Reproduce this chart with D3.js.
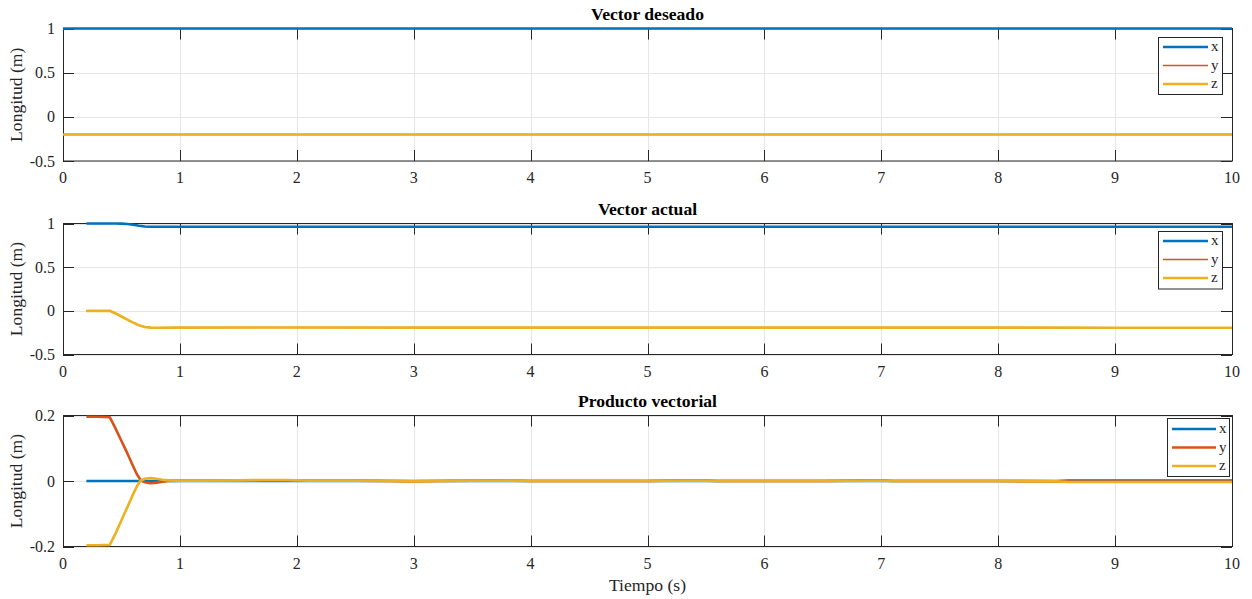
<!DOCTYPE html>
<html>
<head>
<meta charset="utf-8">
<script src="https://cdn.jsdelivr.net/npm/d3@7"></script>
<style>
  html, body { margin: 0; padding: 0; background: #fff; }
  svg { display: block; }
  text { font-family: "Liberation Serif", "Times New Roman", serif; fill: #262626; }
</style>
</head>
<body>
<svg id="chart" width="1252" height="599" font-family="Liberation Serif, serif"></svg>
<script>
// ---------- DATA ----------
const seriesNames = ["x", "y", "z"];
const seriesColors = ["#0072BD", "#D95319", "#EDB120"];
const xTicks = [0, 1, 2, 3, 4, 5, 6, 7, 8, 9, 10];

// Panel 1: Vector deseado
const title1 = "Vector deseado";
const t1 = [0, 10];
const d1x = [1, 1];
const d1y = [-0.2, -0.2];
const d1z = [-0.2, -0.2];
const yTicks1 = [-0.5, 0, 0.5, 1];
const yTickLabels1 = ["-0.5", "0", "0.5", "1"];

// Panel 2: Vector actual
const title2 = "Vector actual";
const t2 = [0.2, 0.4, 0.45, 0.5, 0.55, 0.6, 0.65, 0.7, 0.75, 0.8, 1, 2, 3, 4, 5, 6, 7, 8, 9, 10];
const d2x = [1, 1, 1, 0.999, 0.994, 0.985, 0.974, 0.965, 0.962, 0.962, 0.962, 0.962, 0.962, 0.962, 0.962, 0.962, 0.962, 0.962, 0.962, 0.962];
const d2y = [0, 0.001, -0.03, -0.065, -0.1, -0.135, -0.165, -0.185, -0.192, -0.193, -0.192, -0.191, -0.192, -0.192, -0.192, -0.192, -0.192, -0.192, -0.193, -0.193];
const d2z = [0, 0.001, -0.03, -0.065, -0.1, -0.135, -0.165, -0.185, -0.192, -0.193, -0.192, -0.191, -0.192, -0.192, -0.192, -0.192, -0.192, -0.192, -0.193, -0.193];
const yTicks2 = [-0.5, 0, 0.5, 1];
const yTickLabels2 = ["-0.5", "0", "0.5", "1"];

// Panel 3: Producto vectorial
const title3 = "Producto vectorial";
const t3 = [0.2, 0.3, 0.4, 0.45, 0.5, 0.55, 0.6, 0.63, 0.66, 0.7, 0.75, 0.8, 0.85, 0.9, 1.0, 1.2, 1.5, 1.7, 1.9, 2.1, 2.5, 2.8, 3.0, 3.2, 3.5, 3.7, 3.85, 4.0, 4.5, 5.0, 5.3, 5.45, 5.6, 6.0, 6.5, 6.95, 7.0, 7.1, 7.5, 8.0, 8.5, 8.6, 9.0, 9.5, 10];
const d3x = [0, 0, 0, 0, 0, 0, 0, 0, 0, 0, 0, 0, 0, 0, 0, 0, 0, 0, 0, 0, 0, 0, 0, 0, 0, 0, 0, 0, 0, 0, 0, 0, 0, 0, 0, 0, 0, 0, 0, 0, 0, 0.001, 0.001, 0.001, 0.001];
const d3y = [0.196, 0.196, 0.195, 0.16, 0.122, 0.085, 0.045, 0.022, 0.005, -0.004, -0.007, -0.005, -0.002, 0, 0.001, 0.001, 0.002, 0.002, 0.002, 0.001, 0.001, 0, -0.001, 0, 0.001, 0.002, 0.001, 0, 0, 0, 0.002, 0.002, 0, 0, 0, 0.002, 0.002, 0, 0, 0, -0.001, -0.002, -0.002, -0.002, -0.002];
const d3z = [-0.196, -0.196, -0.195, -0.16, -0.12, -0.08, -0.04, -0.018, 0, 0.007, 0.009, 0.007, 0.004, 0.002, 0.001, 0.001, 0.002, 0.003, 0.003, 0.001, 0.001, 0, -0.001, 0, 0.001, 0.001, 0.001, 0, 0, 0, 0.001, 0.001, 0, 0, 0, 0.001, 0.001, 0, 0, 0, -0.001, -0.003, -0.003, -0.003, -0.003];
const yTicks3 = [-0.2, 0, 0.2];
const yTickLabels3 = ["-0.2", "0", "0.2"];

const yLabel = "Longitud (m)";
const xLabel = "Tiempo (s)";

// ---------- LAYOUT ----------
const svg = d3.select("#chart");
const left = 63, right = 1232;
const panels = [
  { title: title1, t: t1, data: [d1x, d1y, d1z], widths: [2.6, 1.5, 2.6], domain: [-0.5, 1], ticks: yTicks1, labels: yTickLabels1, top: 28.5, h: 132.5,
    legend: { x: 1158.5, y: 37.5, w: 64, h: 57, lx1: 1163, lx2: 1208, rows: [47, 65.5, 84] } },
  { title: title2, t: t2, data: [d2x, d2y, d2z], widths: [2.6, 1.5, 2.6], domain: [-0.5, 1], ticks: yTicks2, labels: yTickLabels2, top: 223.5, h: 131,
    legend: { x: 1158.5, y: 231.5, w: 64, h: 57.5, lx1: 1163, lx2: 1208, rows: [241, 259.5, 278] } },
  { title: title3, t: t3, data: [d3x, d3y, d3z], widths: [2.6, 2.6, 2.6], domain: [-0.2, 0.2], ticks: yTicks3, labels: yTickLabels3, top: 415.5, h: 131,
    legend: { x: 1167.5, y: 418.5, w: 62, h: 58, lx1: 1172, lx2: 1216, rows: [429, 447.5, 466] } }
];

const x = d3.scaleLinear().domain([0, 10]).range([left, right]);
const axisColor = "#262626";
const gridColor = "#e6e6e6";
const tickLen = 11;

panels.forEach((p, pi) => {
  const y = d3.scaleLinear().domain(p.domain).range([p.top + p.h, p.top]);
  const g = svg.append("g");

  // grid
  g.selectAll(".gx").data(xTicks).enter().append("line")
    .attr("x1", d => Math.round(x(d)) + 0.5).attr("x2", d => Math.round(x(d)) + 0.5)
    .attr("y1", p.top).attr("y2", p.top + p.h)
    .attr("stroke", gridColor).attr("stroke-width", 1);
  g.selectAll(".gy").data(p.ticks).enter().append("line")
    .attr("x1", left).attr("x2", right)
    .attr("y1", d => Math.round(y(d)) + 0.5).attr("y2", d => Math.round(y(d)) + 0.5)
    .attr("stroke", gridColor).attr("stroke-width", 1);

  // ticks (inward, all four sides)
  const tickG = g.append("g").attr("stroke", axisColor).attr("stroke-width", 1);
  xTicks.forEach(v => {
    const xv = Math.round(x(v)) + 0.5;
    tickG.append("line").attr("x1", xv).attr("x2", xv).attr("y1", p.top + p.h).attr("y2", p.top + p.h - tickLen);
    tickG.append("line").attr("x1", xv).attr("x2", xv).attr("y1", p.top).attr("y2", p.top + tickLen);
  });
  p.ticks.forEach(v => {
    const yv = Math.round(y(v)) + 0.5;
    tickG.append("line").attr("x1", left).attr("x2", left + tickLen).attr("y1", yv).attr("y2", yv);
    tickG.append("line").attr("x1", right).attr("x2", right - tickLen).attr("y1", yv).attr("y2", yv);
  });

  // box
  g.append("rect").attr("x", left + 0.5).attr("y", p.top).attr("width", right - left).attr("height", p.h)
    .attr("fill", "none").attr("stroke", axisColor).attr("stroke-width", 1);

  // lines (on top of the box)
  const clipId = "clip" + pi;
  svg.append("clipPath").attr("id", clipId).append("rect")
    .attr("x", left).attr("y", p.top - 3).attr("width", right - left + 1).attr("height", p.h + 6);
  const lineG = g.append("g").attr("clip-path", `url(#${clipId})`);
  p.data.forEach((arr, si) => {
    const pts = p.t.map((tv, i) => [tv, arr[i]]);
    lineG.append("path")
      .datum(pts)
      .attr("fill", "none")
      .attr("stroke", seriesColors[si])
      .attr("stroke-width", p.widths[si])
      .attr("stroke-linejoin", "round")
      .attr("d", d3.line().x(d => x(d[0])).y(d => y(d[1])));
  });

  // tick labels
  g.selectAll(".xl").data(xTicks).enter().append("text")
    .attr("x", d => x(d)).attr("y", p.top + p.h + 22)
    .attr("text-anchor", "middle").attr("font-size", 16)
    .text(d => d3.format("d")(d));
  g.selectAll(".yl").data(p.ticks).enter().append("text")
    .attr("x", 55).attr("y", d => y(d) + 5.5)
    .attr("text-anchor", "end").attr("font-size", 16)
    .text((d, i) => p.labels[i]);

  // title
  g.append("text").attr("x", (left + right) / 2).attr("y", p.top - 8.5)
    .attr("text-anchor", "middle").attr("font-size", 17.6).attr("font-weight", "bold")
    .style("fill", "#000").text(p.title);

  // y label
  g.append("text")
    .attr("transform", `translate(22,${p.top + p.h / 2}) rotate(-90)`)
    .attr("text-anchor", "middle").attr("font-size", 17.6)
    .text(yLabel);

  // legend
  const L = p.legend;
  const lg = g.append("g");
  lg.append("rect").attr("x", L.x).attr("y", L.y).attr("width", L.w).attr("height", L.h)
    .attr("fill", "#fff").attr("stroke", axisColor).attr("stroke-width", 1);
  seriesNames.forEach((nm, si) => {
    lg.append("line").attr("x1", L.lx1).attr("x2", L.lx2)
      .attr("y1", L.rows[si]).attr("y2", L.rows[si])
      .attr("stroke", seriesColors[si]).attr("stroke-width", p.widths[si]);
    lg.append("text").attr("x", L.lx2 + 3).attr("y", L.rows[si] + 4)
      .attr("font-size", 15).text(nm);
  });
});

// x label
svg.append("text").attr("x", (left + right) / 2).attr("y", 591)
  .attr("text-anchor", "middle").attr("font-size", 17.6).text(xLabel);
</script>
</body>
</html>
